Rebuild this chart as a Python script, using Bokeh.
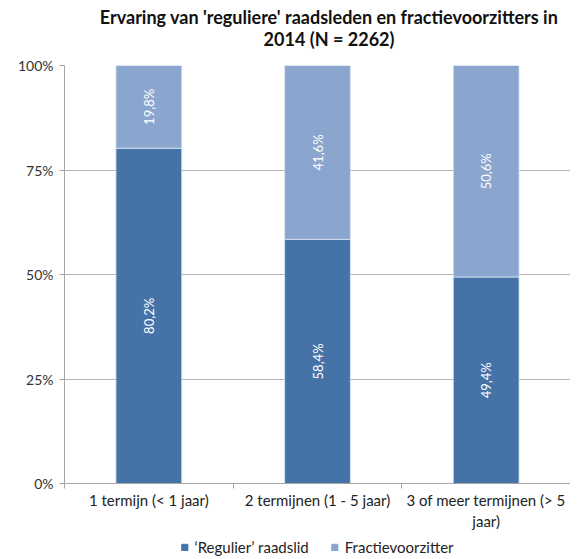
import math
from bokeh.plotting import figure
from bokeh.layouts import column
from bokeh.models import (Range1d, FixedTicker, Legend, LegendItem,
                          ColumnDataSource)
from bokeh.core.properties import value
from bokeh.embed import file_html
from bokeh.resources import INLINE

title_lines = ["Ervaring van 'reguliere' raadsleden en fractievoorzitters in",
               "2014 (N = 2262)"]
categories = ["1 termijn (< 1 jaar)", "2 termijnen (1 - 5 jaar)",
              "3 of meer termijnen (> 5\njaar)"]
regulier = [80.2, 58.4, 49.4]
fractie = [19.8, 41.6, 50.6]
series_names = ["\u2018Regulier\u2019 raadslid", "Fractievoorzitter"]
y_ticks = [0, 25, 50, 75, 100]

FONT = "Lato"
DARK = "#4572A7"
LIGHT = "#8AA6CE"
W = 570


def strip(h, xr, yr):
    fig = figure(width=W, height=h, output_backend="svg", toolbar_location=None,
                 x_range=xr, y_range=yr, x_axis_type=None, y_axis_type=None,
                 min_border=0)
    fig.grid.visible = False
    fig.outline_line_color = None
    fig.title = None
    return fig


# ---- title strip ----
TH = 52
pt = strip(TH, Range1d(0, W), Range1d(0, TH))
pt.text(x=[298, 298], y=[TH - 16, TH - 38], text=title_lines,
        text_font=value(FONT), text_font_size="18px", text_font_style="bold",
        text_color="#111111", text_align="center", text_baseline="middle")

# ---- main chart ----
xs = [i + 0.5 for i in range(len(categories))]

p = figure(frame_width=506, frame_height=418, output_backend="svg",
           toolbar_location=None,
           x_range=Range1d(0, len(categories)), y_range=Range1d(0, 100),
           min_border_left=64, min_border_right=0, min_border_top=13,
           min_border_bottom=48)
p.title = None
p.outline_line_color = None

src = ColumnDataSource(dict(x=xs, reg=regulier, fr=fractie))
p.vbar_stack(["reg", "fr"], x="x", width=0.39, source=src,
             color=[DARK, LIGHT], line_color="#DCE4F0", line_width=0.8)

lab_x = xs + xs
lab_y = [v / 2 for v in regulier] + [a + b / 2 for a, b in zip(regulier, fractie)]
lab_t = [("%.1f%%" % v).replace(".", ",") for v in regulier + fractie]
p.text(x=lab_x, y=lab_y, text=lab_t, angle=math.pi / 2,
       text_color="white", text_font=value(FONT), text_font_size="13px",
       text_align="center", text_baseline="middle")

p.xgrid.grid_line_color = None
p.ygrid.ticker = FixedTicker(ticks=y_ticks)
p.ygrid.grid_line_color = "#B4B4B4"
p.ygrid.level = "underlay"

p.yaxis.ticker = FixedTicker(ticks=y_ticks)
p.yaxis.major_label_overrides = {t: f"{t}%" for t in y_ticks}
p.yaxis.axis_line_color = "#A6A6A6"
p.yaxis.major_tick_line_color = "#A6A6A6"
p.yaxis.major_tick_out = 5
p.yaxis.major_tick_in = 0
p.yaxis.minor_tick_line_color = None
p.yaxis.major_label_text_font = FONT
p.yaxis.major_label_text_font_size = "14px"
p.yaxis.major_label_text_color = "#333333"
p.yaxis.major_label_standoff = 6

p.xaxis.ticker = FixedTicker(ticks=xs, minor_ticks=list(range(len(categories) + 1)))
p.xaxis.major_label_overrides = {x: c for x, c in zip(xs, categories)}
p.xaxis.axis_line_color = "#A6A6A6"
p.xaxis.major_tick_line_color = None
p.xaxis.major_tick_out = 0
p.xaxis.major_tick_in = 0
p.xaxis.minor_tick_line_color = "#A6A6A6"
p.xaxis.minor_tick_out = 5
p.xaxis.minor_tick_in = 0
p.xaxis.major_label_text_font = FONT
p.xaxis.major_label_text_font_size = "15px"
p.xaxis.major_label_text_color = "#222222"
p.xaxis.major_label_standoff = 2

# ---- legend strip ----
LH = 28
pl = strip(LH, Range1d(0, 1), Range1d(0, 1))
# off-screen proxy glyphs so the legend swatches get drawn
lr1 = pl.vbar(x=[5], top=[0.5], width=0.1, color=DARK)
lr2 = pl.vbar(x=[5], top=[0.5], width=0.1, color=LIGHT)
legend = Legend(items=[LegendItem(label=series_names[0], renderers=[lr1]),
                       LegendItem(label=series_names[1], renderers=[lr2])],
                orientation="horizontal", location="center",
                label_text_font=FONT, label_text_font_size="15px",
                label_text_color="#222222", glyph_width=8, glyph_height=8,
                border_line_color=None, background_fill_alpha=0,
                spacing=22, padding=0, margin=0, label_standoff=6)
pl.add_layout(legend, "center")

layout = column(pt, p, pl, spacing=0)
open("out.html", "w").write(file_html(layout, INLINE))
